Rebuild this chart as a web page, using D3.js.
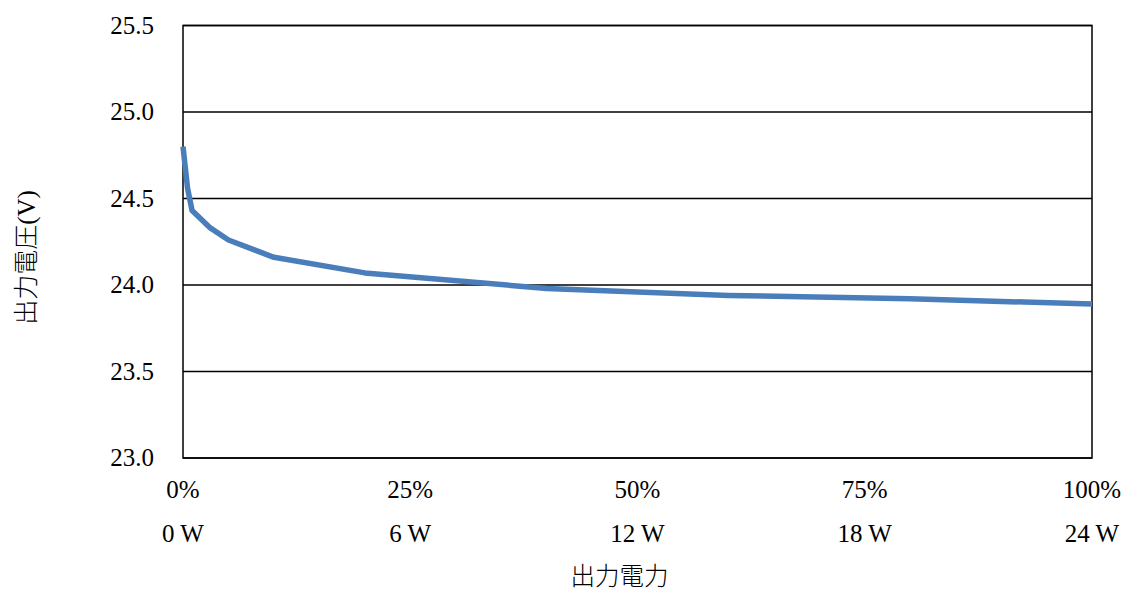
<!DOCTYPE html>
<html><head><meta charset="utf-8">
<script src="https://cdn.jsdelivr.net/npm/d3@7"></script>
<style>body{margin:0;background:#fff}</style>
</head><body>
<svg id="c" width="1124" height="590"></svg>
<script>
const loadPct = [0, 0.5, 1, 3, 5, 10, 20, 40, 60, 80, 100];
const voltage = [24.80, 24.56, 24.43, 24.33, 24.26, 24.16, 24.07, 23.98, 23.94, 23.92, 23.89];
const yTicks = [23.0, 23.5, 24.0, 24.5, 25.0, 25.5];
const xTicks = [0, 25, 50, 75, 100];
const pctLabels = ["0%", "25%", "50%", "75%", "100%"];
const wattLabels = ["0 W", "6 W", "12 W", "18 W", "24 W"];
const yTitleCJK = "出力電圧";
const yTitleUnit = "(V)";
const xTitle = "出力電力";

const svg = d3.select("#c");
const L = 183, R = 1092, T = 25.5, B = 458;
const x = d3.scaleLinear().domain([0, 100]).range([L, R]);
const y = d3.scaleLinear().domain([23, 25.5]).range([B, T]);
const serif = "'Liberation Serif','Times New Roman',serif";
const cjk = "'Noto Sans CJK JP',sans-serif";

// gridlines
svg.append("g").selectAll("line").data(yTicks).join("line")
  .attr("x1", L).attr("x2", R).attr("y1", d => y(d)).attr("y2", d => y(d))
  .attr("stroke", "#000").attr("stroke-width", 1.5);
// frame
svg.append("rect").attr("x", L).attr("y", T).attr("width", R - L).attr("height", B - T)
  .attr("fill", "none").attr("stroke", "#000").attr("stroke-width", 1.5);

// y tick labels
svg.append("g").selectAll("text").data(yTicks).join("text")
  .attr("x", 154).attr("y", d => y(d)).attr("dy", "0.33em")
  .attr("text-anchor", "end").attr("font-family", serif).attr("font-size", 25)
  .text(d => d.toFixed(1));

// x labels
svg.append("g").selectAll("text").data(xTicks).join("text")
  .attr("x", d => x(d)).attr("y", 497.5).attr("text-anchor", "middle")
  .attr("font-family", serif).attr("font-size", 25).text((d, i) => pctLabels[i]);
svg.append("g").selectAll("text").data(xTicks).join("text")
  .attr("x", d => x(d)).attr("y", 541.5).attr("text-anchor", "middle")
  .attr("font-family", serif).attr("font-size", 25).text((d, i) => wattLabels[i]);

// titles
const yt = svg.append("text").attr("transform", "translate(35,257.5) rotate(-90)")
  .attr("text-anchor", "middle").attr("font-size", 25).attr("font-weight", 300);
yt.append("tspan").attr("font-family", cjk).text(yTitleCJK);
yt.append("tspan").attr("font-family", serif).attr("font-weight", 400).text(yTitleUnit);
svg.append("text").attr("x", (L + R) / 2 - 18).attr("y", 584.5).attr("text-anchor", "middle")
  .attr("font-family", cjk).attr("font-weight", 300).attr("font-size", 24.5).text(xTitle);

// line
const line = d3.line().x((d, i) => x(loadPct[i])).y(d => y(d));
svg.append("path").datum(voltage).attr("d", line)
  .attr("fill", "none").attr("stroke", "#4A7EBB").attr("stroke-width", 5.5)
  .attr("stroke-linejoin", "round");
</script>
</body></html>
